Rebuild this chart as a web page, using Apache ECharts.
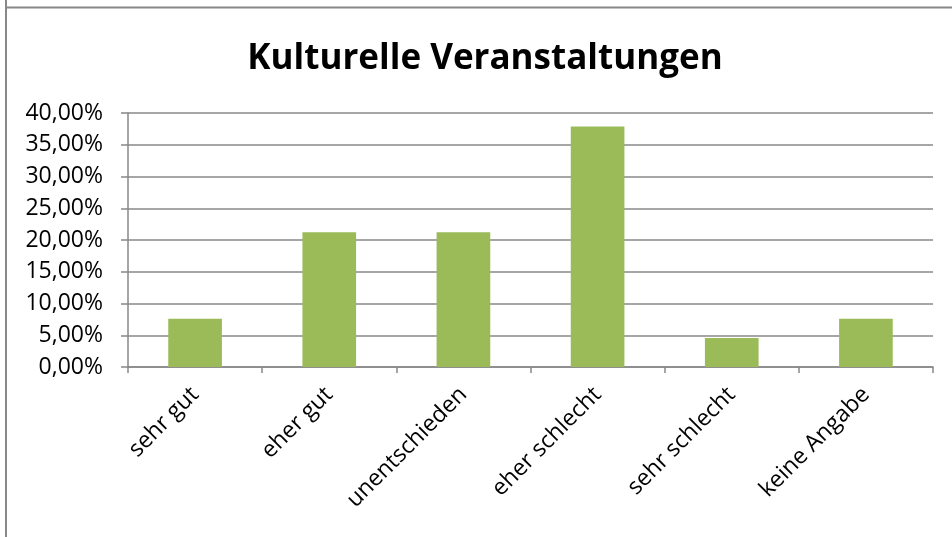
<!DOCTYPE html>
<html>
<head>
<meta charset="utf-8">
<script src="https://cdn.jsdelivr.net/npm/echarts@6/dist/echarts.min.js"></script>
<style>html,body{margin:0;padding:0;background:#fff}#c{width:952px;height:537px}</style>
</head>
<body>
<div id="c"></div>
<script>
const titleText = "Kulturelle Veranstaltungen";
const categories = ["sehr gut", "eher gut", "unentschieden", "eher schlecht", "sehr schlecht", "keine Angabe"];
const values = [7.58, 21.21, 21.21, 37.88, 4.55, 7.58];
const yMin = 0, yMax = 40, yStep = 5;

const chart = echarts.init(document.getElementById('c'));
const FONT = '"Open Sans", sans-serif';
chart.setOption({
  animation: false,
  backgroundColor: '#fff',
  title: {
    text: titleText,
    left: 480, top: 37, textAlign: 'center',
    textStyle: { fontFamily: FONT, fontWeight: 'bold', fontSize: 35, color: '#000' }
  },
  graphic: [
    { type: 'line', shape: { x1: 6, y1: 0, x2: 6, y2: 537 }, style: { stroke: '#888', lineWidth: 2 } },
    { type: 'line', shape: { x1: 6, y1: 7.5, x2: 952, y2: 7.5 }, style: { stroke: '#888', lineWidth: 2 } }
  ],
  grid: { left: 128, right: 19, top: 113, bottom: 170 },
  xAxis: {
    type: 'category', data: categories,
    axisLine: { lineStyle: { color: '#888', width: 1.5 } },
    axisTick: { show: true, length: 6, lineStyle: { color: '#888', width: 1.5 } },
    axisLabel: { rotate: 45, margin: 24, fontFamily: FONT, fontSize: 23, color: '#000', interval: 0 }
  },
  yAxis: {
    type: 'value', min: yMin, max: yMax, interval: yStep,
    axisLine: { show: true, lineStyle: { color: '#888', width: 1.5 } },
    axisTick: { show: true, length: 7, lineStyle: { color: '#888', width: 1.5 } },
    splitLine: { lineStyle: { color: '#888', width: 1.5 } },
    axisLabel: {
      margin: 25, fontFamily: FONT, fontSize: 23, color: '#000',
      formatter: v => v.toFixed(2).replace('.', ',') + '%'
    }
  },
  series: [{
    type: 'bar', data: values, barCategoryGap: '60%',
    itemStyle: { color: '#9BBB59' }
  }]
});
</script>
</body>
</html>
